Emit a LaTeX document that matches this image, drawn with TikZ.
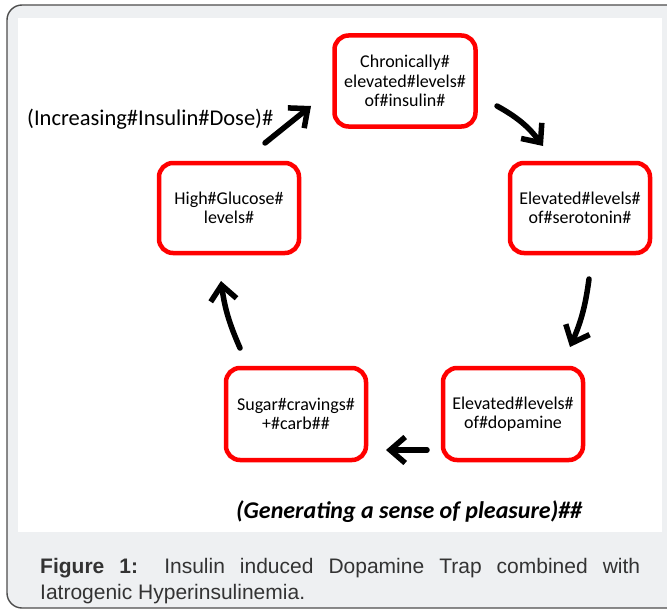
\documentclass[tikz,border=0pt]{standalone}
\usepackage{fontspec}
\setmainfont{Carlito}
\newfontfamily\captionfont{Liberation Sans}
\usetikzlibrary{arrows.meta,positioning}

\definecolor{framegray}{HTML}{EEF0F2}
\definecolor{framedraw}{HTML}{4D4D4D}
\definecolor{capgray}{HTML}{333333}
\definecolor{boxred}{HTML}{FF0000}

\begin{document}
\begin{tikzpicture}[x=1pt, y=-1pt,
  stagebox/.style={draw=boxred, line width=4.5pt, rounded corners=14pt,
                   fill=white, minimum width=140pt, minimum height=90pt,
                   align=center, inner sep=2pt,
                   font=\fontsize{18}{19.5}\selectfont},
  arr/.style={-{Straight Barb[length=15pt,width=26pt]}, line width=5.5pt,
              line cap=round},
  note/.style={font=\fontsize{22.5}{26}\selectfont, inner sep=0pt}
]

% frame and white panel
\useasboundingbox (0,0) rectangle (667,610);
\draw[framedraw, fill=framegray, line width=1.4pt, rounded corners=15pt]
  (7,5) rectangle (690,608);
\fill[white] (18,18) rectangle (662,532);

% stages of the cycle
\node[stagebox, minimum width=141pt, minimum height=91pt] (insulin) at (405,81)
  {Chronically\#\\elevated\#levels\#\\of\#insulin\#};
\node[stagebox] (serotonin) at (580,208) {Elevated\#levels\#\\of\#serotonin\#};
\node[stagebox] (glucose) at (229,208) {High\#Glucose\#\\levels\#};
\node[stagebox, minimum height=92pt] (cravings) at (296,414) {Sugar\#cravings\#\\+\#carb\#\#};
\node[stagebox, minimum height=92pt] (dopamine) at (513,414) {Elevated\#levels\#\\of\#dopamine};

% arrows
\coordinate (a1s) at (265,143); \coordinate (a1e) at (311,106);
\coordinate (a2s) at (497,106); \coordinate (a2e) at (543,146);
\coordinate (a3s) at (589,279); \coordinate (a3e) at (570,347);
\coordinate (a4s) at (427,450); \coordinate (a4e) at (386,450);
\coordinate (a5s) at (240,348); \coordinate (a5e) at (221,281);
\draw[arr] (a1s) -- (a1e);
\draw[arr] (a2s) to[bend left=12] (a2e);
\draw[arr] (a3s) to[bend left=8] (a3e);
\draw[arr] (a4s) -- (a4e);
\draw[arr] (a5s) to[bend left=8] (a5e);

% labels
\node[note, anchor=west] (dose) at (27,119) {(Increasing\#Insulin\#Dose)\#};
\node[note, anchor=west, font=\bfseries\itshape\fontsize{24}{28}\selectfont]
  (pleasure) at (236,512) {(Generating a sense of pleasure)\#\#};

% caption
\node[anchor=north west, text width=600pt, align=justify, inner sep=0pt,
      font=\captionfont\fontsize{21}{26.5}\selectfont, text=capgray] (caption) at (40,558)
  {\textbf{Figure 1:} Insulin induced Dopamine Trap combined with\linebreak
   Iatrogenic Hyperinsulinemia.};

\end{tikzpicture}
\end{document}
